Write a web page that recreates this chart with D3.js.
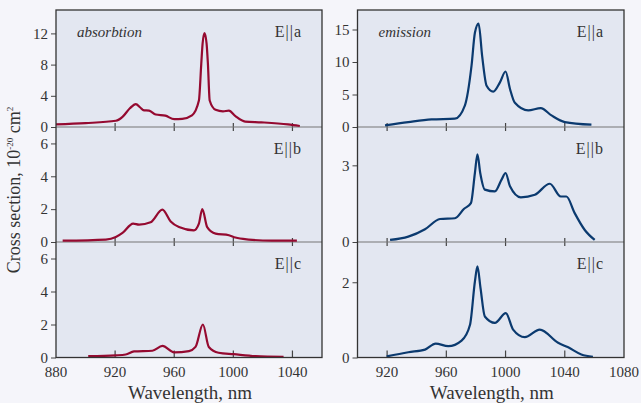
<!DOCTYPE html>
<html>
<head>
<meta charset="utf-8">
<script src="https://cdn.jsdelivr.net/npm/d3@7"></script>
<style>
  body { margin: 0; background: #f5f5fa; }
</style>
</head>
<body>
<div id="chart"></div>
<script>
// values: [wavelength nm, cross section 1e-20 cm^2]
var absA = [[880,0.34],[900,0.5],[920.5,0.8],[925,1.3],[930,2.4],[934,2.94],[937,2.5],[939,2.17],[943,2.1],[947.5,1.6],[954,1.45],[960,1.0],[965.4,1.05],[972,1.5],[976.7,3.4],[978.3,8.1],[979.2,10.7],[980.5,12.05],[981.9,10.7],[982.8,8.1],[984,3.4],[988,2.2],[993,2.0],[997,2.1],[1001.4,1.4],[1008,0.7],[1019,0.6],[1037,0.34],[1045,0.13]];
var absB = [[884.5,0.08],[913.7,0.15],[920.5,0.3],[925,0.55],[932.2,1.12],[936.2,1.06],[944,1.2],[952,1.97],[957.6,1.25],[963.2,0.91],[973.3,0.71],[976.7,1.12],[979,2.01],[982.3,0.91],[988,0.51],[997,0.41],[1001.4,0.27],[1010.4,0.15],[1026,0.08],[1043,0.08]];
var absC = [[901.8,0.08],[920.5,0.13],[927.2,0.18],[932.8,0.37],[945.2,0.41],[952,0.7],[960,0.31],[970,0.39],[974.4,0.64],[979.4,2.0],[983.4,0.64],[990,0.29],[1000.3,0.2],[1015,0.08],[1034,0.04]];

var emA = [[918.6,0.26],[934.3,0.76],[950,1.17],[965.8,1.28],[972.5,3.3],[977,9.4],[979.3,14.5],[981.8,15.9],[984.2,10.9],[987.2,6.35],[991.7,5.44],[996.2,6.86],[1000,8.54],[1003,5.85],[1006.3,3.72],[1015.3,2.55],[1023.8,2.9],[1031,1.78],[1040,0.76],[1058,0.36]];
var emB = [[922,0.08],[934.3,0.21],[945.6,0.5],[955.7,0.9],[965.8,0.93],[972,1.3],[976.6,1.52],[979.3,2.7],[981,3.43],[982.9,2.7],[986,2.05],[992.8,1.98],[997.3,2.44],[1000,2.7],[1003,2.18],[1010.3,1.75],[1019.8,1.85],[1029.9,2.28],[1037.3,1.78],[1041.1,1.78],[1046.7,1.13],[1053.5,0.47],[1060.2,0.08]];
var emC = [[919.7,0.03],[934.3,0.14],[945.6,0.21],[952.8,0.37],[961.3,0.3],[970.3,0.45],[976,0.87],[979.3,2.02],[981,2.42],[983.1,1.84],[986,1.09],[992.8,0.92],[1000.2,1.18],[1005.1,0.74],[1013,0.54],[1023.1,0.74],[1035.5,0.39],[1042.3,0.27],[1051.2,0.08],[1059,0.02]];

var absYMax = [15, 7, 7];
var emYMax = [18, 4.5, 3.07];
var absYTicks = [[0,4,8,12],[0,2,4,6],[0,2,4,6]];
var emYTicks = [[0,5,10,15],[0,3],[0,2]];
var absXTicks = [880, 920, 960, 1000, 1040];
var emXTicks = [920, 960, 1000, 1040, 1080];
var polLabels = ['E||a', 'E||b', 'E||c'];

var width = 641, height = 403;
var rowTop = [10, 127, 242], rowBottom = [127, 242, 357.5];
var serif = "'Liberation Serif', 'Times New Roman', 'DejaVu Serif', serif";

var svg = d3.select('#chart').append('svg')
    .attr('width', width)
    .attr('height', height)
    .style('font-family', serif);

var cols = [
  {left: 56, right: 322, domain: [880, 1060], series: [absA, absB, absC], ymax: absYMax,
   yticks: absYTicks, xticks: absXTicks, color: '#950a30', title: 'absorbtion'},
  {left: 357.5, right: 624, domain: [900, 1080], series: [emA, emB, emC], ymax: emYMax,
   yticks: emYTicks, xticks: emXTicks, color: '#0b3a6f', title: 'emission'}
];

function txt(sel, size) {
  return sel.style('font-family', serif).style('font-size', size + 'px').style('fill', '#333');
}

cols.forEach(function(c) {
  var x = d3.scaleLinear().domain(c.domain).range([c.left, c.right]);

  // plot background
  svg.append('rect')
      .attr('x', c.left).attr('y', rowTop[0])
      .attr('width', c.right - c.left).attr('height', rowBottom[2] - rowTop[0])
      .style('fill', '#e3e7f1');

  c.series.forEach(function(data, i) {
    var y = d3.scaleLinear().domain([0, c.ymax[i]]).range([rowBottom[i], rowTop[i]]);

    // y ticks (outward)
    var ya = svg.append('g')
        .attr('transform', 'translate(' + c.left + ',0)')
        .call(d3.axisLeft(y).tickValues(c.yticks[i]).tickSize(5).tickPadding(3).tickFormat(d3.format('d')));
    ya.attr('font-family', null).attr('font-size', null);
    ya.select('.domain').remove();
    ya.selectAll('line').style('stroke', '#444');
    txt(ya.selectAll('text'), 15);

    // x ticks crossing the lower boundary of each row
    var inner = c.xticks.filter(function(d) { return d > c.domain[0] && d < c.domain[1]; });
    svg.append('g').selectAll('line').data(inner).enter().append('line')
        .attr('x1', function(d) { return x(d); })
        .attr('x2', function(d) { return x(d); })
        .attr('y1', rowBottom[i] - (i == 2 ? 7 : 4))
        .attr('y2', rowBottom[i] + (i == 2 ? 0 : 4))
        .style('stroke', '#444')
        .style('stroke-width', 1.2);

    // boundary / zero line
    if (i < 2) {
      svg.append('line')
          .attr('x1', c.left).attr('x2', c.right)
          .attr('y1', rowBottom[i]).attr('y2', rowBottom[i])
          .style('stroke', '#777').style('stroke-width', 1.2);
    }

    var line = d3.line()
        .x(function(d) { return x(d[0]); })
        .y(function(d) { return y(d[1]); })
        .curve(d3.curveMonotoneX);

    svg.append('path')
        .datum(data)
        .attr('d', line)
        .style('fill', 'none')
        .style('stroke', c.color)
        .style('stroke-width', 2.2)
        .style('stroke-linejoin', 'round');

    txt(svg.append('text'), 16)
        .attr('x', c.right - 20).attr('y', rowTop[i] + 27)
        .attr('text-anchor', 'end')
        .style('letter-spacing', '1px')
        .text(polLabels[i]);
  });

  // frame
  svg.append('rect')
      .attr('x', c.left).attr('y', rowTop[0])
      .attr('width', c.right - c.left).attr('height', rowBottom[2] - rowTop[0])
      .style('fill', 'none').style('stroke', '#333').style('stroke-width', 1.3);

  txt(svg.append('text'), 15)
      .attr('x', c.left + 21).attr('y', 37)
      .style('font-style', 'italic')
      .text(c.title);

  // bottom axis labels
  txt(svg.append('g').selectAll('text').data(c.xticks).enter().append('text'), 15)
      .attr('x', function(d) { return x(d); })
      .attr('y', 377)
      .attr('text-anchor', 'middle')
      .text(function(d) { return d; });

  txt(svg.append('text'), 19)
      .attr('x', (c.left + c.right) / 2 + 1).attr('y', 399)
      .attr('text-anchor', 'middle')
      .text('Wavelength, nm');
});

// y axis title
var yt = txt(svg.append('text'), 18)
    .attr('transform', 'translate(20,190) rotate(-90)')
    .attr('text-anchor', 'middle');
yt.append('tspan').text('Cross section, 10');
yt.append('tspan').attr('dy', -7).style('font-size', '9px').text('-20');
yt.append('tspan').attr('dy', 7).text(' cm');
yt.append('tspan').attr('dy', -7).style('font-size', '9px').text('2');
</script>
</body>
</html>
